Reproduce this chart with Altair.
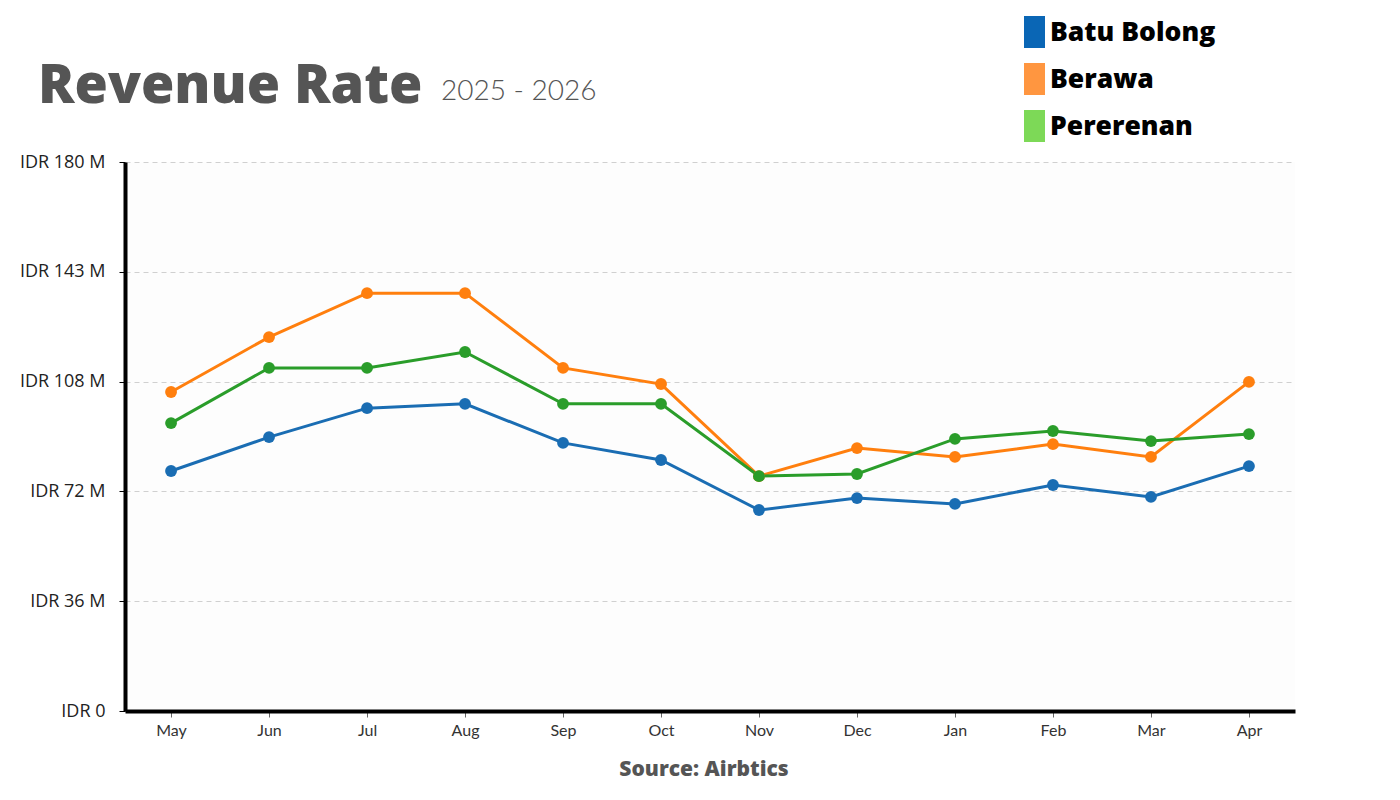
import altair as alt
import pandas as pd

# Monthly revenue rate (IDR, millions), May 2025 - Apr 2026
months = ["May", "Jun", "Jul", "Aug", "Sep", "Oct", "Nov", "Dec", "Jan", "Feb", "Mar", "Apr"]
batu_bolong = [78.7, 89.8, 99.3, 100.7, 87.9, 82.3, 65.9, 69.8, 67.9, 74.1, 70.2, 80.3]
berawa = [104.6, 122.6, 137.0, 137.0, 112.5, 107.2, 77.0, 86.2, 83.3, 87.5, 83.3, 107.9]
pererenan = [94.4, 112.5, 112.5, 117.7, 100.7, 100.7, 77.0, 77.7, 89.2, 91.8, 88.5, 90.8]

series_names = ["Batu Bolong", "Berawa", "Pererenan"]
line_colors = ["#1a6db3", "#ff7f0e", "#2a9d2a"]
legend_colors = ["#0a66b5", "#ff9640", "#7dd957"]

y_ticks = [0, 36, 72, 108, 144, 180]
y_tick_labels = ["IDR 0", "IDR 36 M", "IDR 72 M", "IDR 108 M", "IDR 143 M", "IDR 180 M"]

rows = []
for name, vals in zip(series_names, [batu_bolong, berawa, pererenan]):
    for m, v in zip(months, vals):
        rows.append({"month": m, "series": name, "value": v})
df = pd.DataFrame(rows)

label_expr = " : ".join(
    f"datum.value == {t} ? '{lab}'" for t, lab in zip(y_ticks, y_tick_labels)
) + " : ''"

W, H = 1170, 549
HEAVY = "Open Sans"

x_enc = alt.X(
    "month:N",
    sort=months,
    scale=alt.Scale(type="point", padding=0.47),
    axis=alt.Axis(
        title=None, labelAngle=0, labelFont="Lato", labelFontSize=16,
        labelColor="#333333", labelPadding=5, tickSize=6, tickColor="#666666",
        tickWidth=1, domainColor="#000000", domainWidth=4, grid=False,
    ),
)
y_enc = alt.Y(
    "value:Q",
    scale=alt.Scale(domain=[0, 180], nice=False),
    axis=alt.Axis(
        title=None, values=y_ticks, labelExpr=label_expr, labelFont="Open Sans",
        labelFontSize=18, labelColor="#222222", labelPadding=14, tickSize=6,
        tickColor="#000000", domainColor="#000000", domainWidth=4,
        grid=True, gridColor="#d0d0d0", gridDash=[5, 4], gridWidth=1,
    ),
)
color_enc = alt.Color(
    "series:N",
    scale=alt.Scale(domain=series_names, range=line_colors),
    legend=None,
)

base = alt.Chart(df)
lines = base.mark_line(strokeWidth=3).encode(x=x_enc, y=y_enc, color=color_enc, detail="series:N")
points = base.mark_point(filled=True, size=140, opacity=1).encode(x=x_enc, y=y_enc, color=color_enc)

title = alt.Chart(pd.DataFrame({"t": ["Revenue Rate"]})).mark_text(
    font=HEAVY, fontWeight=800, fontSize=54, color="#555555", align="left", baseline="alphabetic"
).encode(text="t:N", x=alt.value(-87), y=alt.value(-59))

subtitle = alt.Chart(pd.DataFrame({"t": ["2025 - 2026"]})).mark_text(
    font="Lato", fontWeight=300, fontSize=28, color="#555555", align="left", baseline="alphabetic"
).encode(text="t:N", x=alt.value(316), y=alt.value(-62))

source = alt.Chart(pd.DataFrame({"t": ["Source: Airbtics"]})).mark_text(
    font=HEAVY, fontWeight=800, fontSize=21, color="#555555", align="center", baseline="alphabetic"
).encode(text="t:N", x=alt.value(579), y=alt.value(614))

legend_layers = []
for i, (name, col) in enumerate(zip(series_names, legend_colors)):
    top = -146 + i * 47
    sw = alt.Chart(pd.DataFrame({"s": [name]})).mark_rect(color=col).encode(
        x=alt.value(899), x2=alt.value(920), y=alt.value(top), y2=alt.value(top + 32)
    )
    tx = alt.Chart(pd.DataFrame({"s": [name]})).mark_text(
        font=HEAVY, fontWeight=800, fontSize=26.5, color="#000000", align="left", baseline="middle"
    ).encode(text="s:N", x=alt.value(925), y=alt.value(top + 17))
    legend_layers += [sw, tx]

chart = alt.layer(lines, points, title, subtitle, source, *legend_layers).properties(
    width=W,
    height=H,
    autosize=alt.AutoSizeParams(type="none"),
    padding={"left": 125, "top": 162, "right": 105, "bottom": 89},
    background="#ffffff",
).configure_view(fill="#fdfdfd", stroke=None)

chart.save("out.html", embed_options={"renderer": "svg", "actions": False})
